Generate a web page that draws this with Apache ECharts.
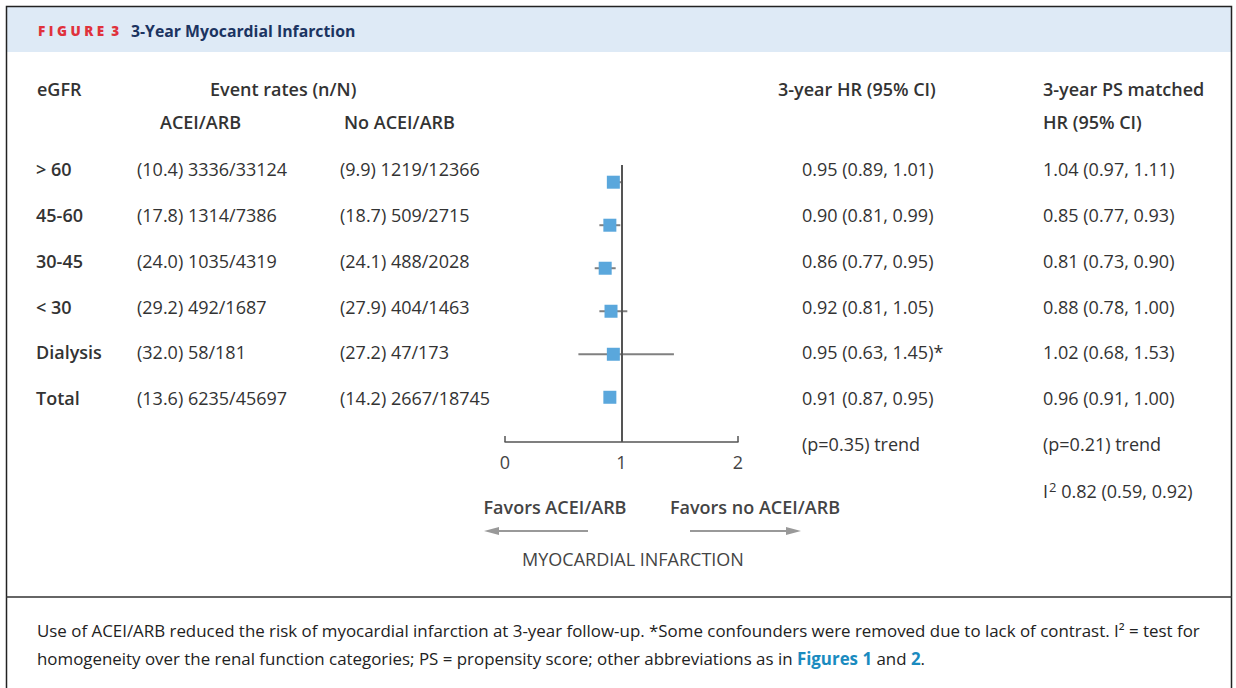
<!DOCTYPE html>
<html><head><meta charset="utf-8">
<script src="https://cdn.jsdelivr.net/npm/echarts@6/dist/echarts.min.js"></script>
<style>html,body{margin:0;padding:0;background:#fff}#c{width:1236px;height:688px}</style>
</head><body><div id="c"></div>
<script>
const egfr = ['> 60', '45-60', '30-45', '< 30', 'Dialysis', 'Total'];
const aceiRates = ['(10.4) 3336/33124', '(17.8) 1314/7386', '(24.0) 1035/4319', '(29.2) 492/1687', '(32.0) 58/181', '(13.6) 6235/45697'];
const noAceiRates = ['(9.9) 1219/12366', '(18.7) 509/2715', '(24.1) 488/2028', '(27.9) 404/1463', '(27.2) 47/173', '(14.2) 2667/18745'];
const hrText = ['0.95 (0.89, 1.01)', '0.90 (0.81, 0.99)', '0.86 (0.77, 0.95)', '0.92 (0.81, 1.05)', '0.95 (0.63, 1.45)*', '0.91 (0.87, 0.95)'];
const psText = ['1.04 (0.97, 1.11)', '0.85 (0.77, 0.93)', '0.81 (0.73, 0.90)', '0.88 (0.78, 1.00)', '1.02 (0.68, 1.53)', '0.96 (0.91, 1.00)'];
const hrPoint = [0.93, 0.90, 0.86, 0.91, 0.93, 0.90];
const hrLow = [0.89, 0.81, 0.77, 0.81, 0.63, 0.87];
const hrHigh = [1.01, 0.99, 0.95, 1.05, 1.45, 0.95];
const xTicks = [0, 1, 2];
const trendHR = '(p=0.35) trend';
const trendPS = '(p=0.21) trend';
const iSquaredLabel = 'I';
const iSquaredValue = ' 0.82 (0.59, 0.92)';

const FONT = '"Open Sans", "Noto Sans", sans-serif';
const TXT = '#333';
const rowY = [169, 215, 261, 307, 352, 398];

function T(x, y, text, opt) {
  opt = opt || {};
  return { type: 'text', x: x, y: y, silent: true, z: 10,
    style: Object.assign({ text: text, fill: opt.fill || TXT, font: (opt.weight || 'normal') + ' ' + (opt.size || 18) + 'px ' + FONT,
      textAlign: opt.align || 'left', textVerticalAlign: 'middle' }, opt.extra || {}) };
}

const g = [];
// frame and header
g.push({ type: 'rect', shape: { x: 7, y: 7, width: 1224, height: 45 }, style: { fill: '#deeaf6' }, z: 0 });
g.push({ type: 'rect', shape: { x: 6.5, y: 6.5, width: 1225, height: 700 }, style: { fill: 'none', stroke: '#222', lineWidth: 1.5 }, z: 1 });
g.push({ type: 'line', shape: { x1: 6, y1: 597, x2: 1232, y2: 597 }, style: { stroke: '#333', lineWidth: 1.5 }, z: 1 });
g.push({ type: 'text', x: 38, y: 31, z: 10, style: { text: 'F I G U R E  3', fill: '#e0323c', font: '800 13.5px ' + FONT, textVerticalAlign: 'middle' } });
g.push(T(131, 31, '3-Year Myocardial Infarction', { fill: '#1b3461', weight: 'bold', size: 15.8 }));

// headers
g.push(T(37, 89, 'eGFR', { weight: 600 }));
g.push(T(210, 89, 'Event rates (n/N)', { weight: 600 }));
g.push(T(160, 122, 'ACEI/ARB', { weight: 600 }));
g.push(T(344, 122, 'No ACEI/ARB', { weight: 600 }));
g.push(T(778, 89, '3-year HR (95% CI)', { weight: 600 }));
g.push(T(1043, 89, '3-year PS matched', { weight: 600 }));
g.push(T(1043, 122, 'HR (95% CI)', { weight: 600 }));

egfr.forEach((c, i) => {
  g.push(T(36, rowY[i], c, { weight: 600 }));
  g.push(T(137, rowY[i], aceiRates[i]));
  g.push(T(340, rowY[i], noAceiRates[i]));
  g.push(T(802, rowY[i], hrText[i]));
  g.push(T(1043, rowY[i], psText[i]));
});
g.push(T(802, 444, trendHR));
g.push(T(1043, 444, trendPS));
g.push({ type: 'text', x: 1043, y: 491, z: 10, style: { rich: { n: { fill: TXT, font: '18px ' + FONT }, s: { fill: TXT, font: '13px ' + FONT, verticalAlign: 'top', padding: [0, 0, 8, 1] } },
  text: '{n|' + iSquaredLabel + '}{s|2}{n|' + iSquaredValue + '}', textVerticalAlign: 'middle' } });

g.push(T(555, 507, 'Favors ACEI/ARB', { weight: 600, align: 'center', fill: '#444' }));
g.push(T(755, 507, 'Favors no ACEI/ARB', { weight: 600, align: 'center', fill: '#444' }));
g.push(T(633, 559, 'MYOCARDIAL INFARCTION', { align: 'center', fill: '#444' }));
// arrows
g.push({ type: 'line', shape: { x1: 588, y1: 531, x2: 496, y2: 531 }, style: { stroke: '#999', lineWidth: 2 } });
g.push({ type: 'polygon', shape: { points: [[484, 531], [499, 527], [499, 535]] }, style: { fill: '#999' } });
g.push({ type: 'line', shape: { x1: 690, y1: 531, x2: 788, y2: 531 }, style: { stroke: '#999', lineWidth: 2 } });
g.push({ type: 'polygon', shape: { points: [[801, 531], [786, 527], [786, 535]] }, style: { fill: '#999' } });

// caption
g.push({ type: 'text', x: 37, y: 630, z: 10, style: { text: 'Use of ACEI/ARB reduced the risk of myocardial infarction at 3-year follow-up. *Some confounders were removed due to lack of contrast. I² = test for', fill: '#222', font: '16.9px ' + FONT, textVerticalAlign: 'middle' } });
g.push({ type: 'text', x: 37, y: 658, z: 10, style: { rich: { n: { fill: '#222', font: '16.9px ' + FONT }, b: { fill: '#1a8bbf', font: 'bold 16.9px ' + FONT } },
  text: '{n|homogeneity over the renal function categories; PS = propensity score; other abbreviations as in }{b|Figures 1}{n| and }{b|2}{n|.}', textVerticalAlign: 'middle' } });

const chart = echarts.init(document.getElementById('c'), null, { renderer: 'svg' });
chart.setOption({
  animation: false,
  grid: { left: 505, top: 165, width: 233, height: 277 },
  xAxis: { type: 'value', min: 0, max: 2, interval: 1, position: 'bottom',
    axisLine: { show: true, onZero: false, lineStyle: { color: '#555', width: 1.5 } },
    axisTick: { show: true, inside: true, length: 6, lineStyle: { color: '#555', width: 1.5 } },
    axisLabel: { color: '#444', fontSize: 18, fontFamily: FONT, margin: 11, formatter: v => xTicks.includes(v) ? String(v) : '' },
    splitLine: { show: false } },
  yAxis: { type: 'value', inverse: true, min: -0.4, max: 6.04, show: false },
  series: [
    { type: 'custom', z: 3,
      data: egfr.map((c, i) => [hrLow[i], hrHigh[i], i]),
      renderItem: (params, api) => {
        const a = api.coord([api.value(0), api.value(2)]);
        const b = api.coord([api.value(1), api.value(2)]);
        return { type: 'line', shape: { x1: a[0], y1: a[1], x2: b[0], y2: b[1] }, style: { stroke: '#808080', lineWidth: 2 } };
      },
      markLine: { silent: true, symbol: 'none', label: { show: false }, lineStyle: { color: '#555', width: 2, type: 'solid' }, data: [{ xAxis: 1 }] }
    },
    { type: 'scatter', z: 4, symbol: 'rect', symbolSize: 13, itemStyle: { color: '#5aa7dc', opacity: 1 },
      data: egfr.map((c, i) => [hrPoint[i], i]) }
  ],
  graphic: g
});
</script></body></html>
